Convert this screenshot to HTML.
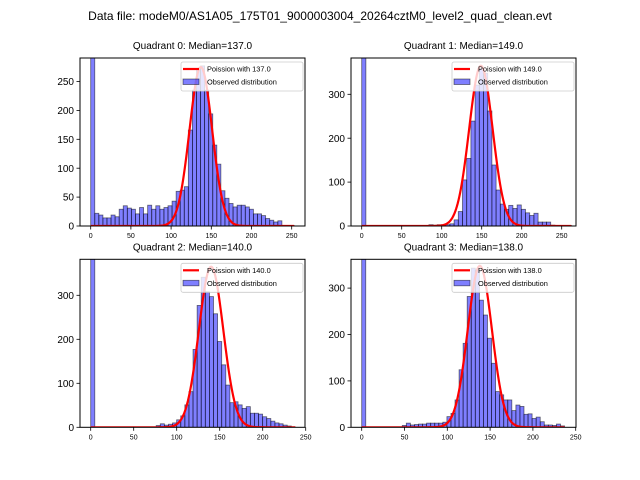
<!DOCTYPE html>
<html><head><meta charset="utf-8"><style>
body{margin:0;background:#fff}
svg{display:block;font-family:"Liberation Sans","DejaVu Sans",sans-serif}
</style></head><body>
<svg id="chart" width="640" height="480" viewBox="0 0 640 480">
<rect width="640" height="480" fill="#fff"/>
<text x="320" y="20" text-anchor="middle" font-size="12">Data file: modeM0/AS1A05_175T01_9000003004_20264cztM0_level2_quad_clean.evt</text>
</svg>
<script>
const medians=[137.0,149.0,140.0,138.0];
const binWidths=[5.06,5.25,4.76,4.74];
const curveMax=[253,262,238,237];
const curvePeaks=[275,365,365,348];
const curveWidthFactor=[1.2,1.2,1.2,1.2];
const counts0=[400,22,19,14,14,19,16,29,35,31,29,21,32,21,36,29,35,29,32,35,43,60,62,68,166,235,272,277,235,194,140,107,61,48,39,33,36,36,33,29,21,21,18,13,10,7,9,0,0,1];
const counts1=[500,0,0,0,0,0,0,0,0,0,0,0,0,1,1,1,3,2,3,3,3,5,14,33,105,154,239,321,359,348,262,139,82,50,38,47,40,48,38,30,24,29,9,9,9,2,1,0,0,1];
const counts2=[500,0,0,0,0,0,0,0,0,0,0,0,0,0,0,0,4,8,5,7,10,17,26,51,81,177,277,341,308,297,258,195,142,96,56,58,51,43,47,32,32,30,24,20,14,10,8,5,3,0];
const counts3=[500,0,0,0,0,0,0,0,0,0,4,9,5,6,7,7,9,9,9,9,11,23,30,59,124,181,282,343,339,274,242,192,138,77,70,59,59,36,48,45,28,29,19,22,12,5,5,4,7,3];
const allCounts=[counts0,counts1,counts2,counts3];
const xTicks=[0,50,100,150,200,250];
const yTicks0=[0,50,100,150,200,250];
const yTicks123=[0,100,200,300];
const allYTicks=[yTicks0,yTicks123,yTicks123,yTicks123];

const NS="http://www.w3.org/2000/svg";
const svg=document.getElementById('chart');
function mk(tag,attrs,parent){const e=document.createElementNS(NS,tag);for(const k in attrs)e.setAttribute(k,attrs[k]);(parent||svg).appendChild(e);return e;}
const geo=[
 {l:80,r:305,t:58,b:226,x0:90.7,kx:0.804,ky:0.578},
 {l:351,r:576,t:58,b:226,x0:361.7,kx:0.8,ky:0.439},
 {l:80,r:305,t:259.3,b:427.3,x0:90.7,kx:0.86,ky:0.44},
 {l:351,r:576,t:259.3,b:427.3,x0:361.7,kx:0.856,ky:0.464}];
for(let q=0;q<4;q++){
 const g=geo[q];
 const xs=v=>g.x0+v*g.kx, ys=v=>g.b-v*g.ky;
 const grp=mk('g',{});
 
 
 const cp=mk('clipPath',{id:'clip'+q},grp);
 mk('rect',{x:g.l,y:g.t,width:g.r-g.l,height:g.b-g.t},cp);
 const title=mk('text',{x:(g.l+g.r)/2,y:g.t-9,'text-anchor':'middle','font-size':'10'},grp);
 title.textContent='Quadrant '+q+': Median='+medians[q].toFixed(1);
 
 
 const plot=mk('g',{'clip-path':'url(#clip'+q+')'},grp);
 const bw=binWidths[q];
 allCounts[q].forEach((c,i)=>{
  if(c<=0)return;
  const r=mk('rect',{x:xs(i*bw),y:ys(c),width:bw*g.kx,height:c*g.ky,fill:'rgba(0,0,255,0.5)',stroke:'rgba(0,0,0,0.55)','stroke-width':'0.8'},plot);
  
  
 });
 const mu=medians[q];
 const sig=Math.sqrt(mu)*curveWidthFactor[q];
 let pts=[];
 for(let n=0;n<=curveMax[q];n++){
  const v=curvePeaks[q]*Math.exp(-0.5*((n-mu)/sig)**2);
  pts.push(xs(n).toFixed(2)+','+ys(v).toFixed(2));
 }
 const pl=mk('polyline',{points:pts.join(' '),fill:'none',stroke:'#ff0000','stroke-width':'2.2'},plot);
 
 
 const fr=mk('rect',{x:g.l,y:g.t,width:g.r-g.l,height:g.b-g.t,fill:'none',stroke:'#000','stroke-width':'1'},grp);
 
 
 xTicks.forEach(v=>{
  const x=xs(v);
  mk('line',{x1:x,x2:x,y1:g.b,y2:g.b+3.5,stroke:'#000','stroke-width':'0.8'},grp);
  const t=mk('text',{x:x,y:g.b+12,'text-anchor':'middle','font-size':'7'},grp);
  t.textContent=v;
  
  
 });
 allYTicks[q].forEach(v=>{
  const y=ys(v);
  mk('line',{x1:g.l-3.5,x2:g.l,y1:y,y2:y,stroke:'#000','stroke-width':'0.8'},grp);
  const t=mk('text',{x:g.l-6,y:y+3.6,'text-anchor':'end','font-size':'10'},grp);
  t.textContent=v;
  
  
 });
 const lg=mk('g',{},grp);
 
 
 const lx=g.r-124;
 mk('rect',{x:lx,y:g.t+4,width:122,height:29,rx:2,fill:'rgba(255,255,255,0.8)',stroke:'#ccc','stroke-width':'0.8'},lg);
 mk('line',{x1:lx+2,x2:lx+18,y1:g.t+11,y2:g.t+11,stroke:'#ff0000','stroke-width':'2.2'},lg);
 const t1=mk('text',{x:lx+26,y:g.t+13.5,'font-size':'7.4'},lg);
 t1.textContent='Poission with '+mu.toFixed(1);
 
 
 mk('rect',{x:lx+2,y:g.t+21,width:16,height:5.5,fill:'rgba(0,0,255,0.5)',stroke:'rgba(0,0,0,0.55)','stroke-width':'0.8'},lg);
 const t2=mk('text',{x:lx+26,y:g.t+26.5,'font-size':'7.4'},lg);
 t2.textContent='Observed distribution';
 
 
}
</script>
</body></html>
